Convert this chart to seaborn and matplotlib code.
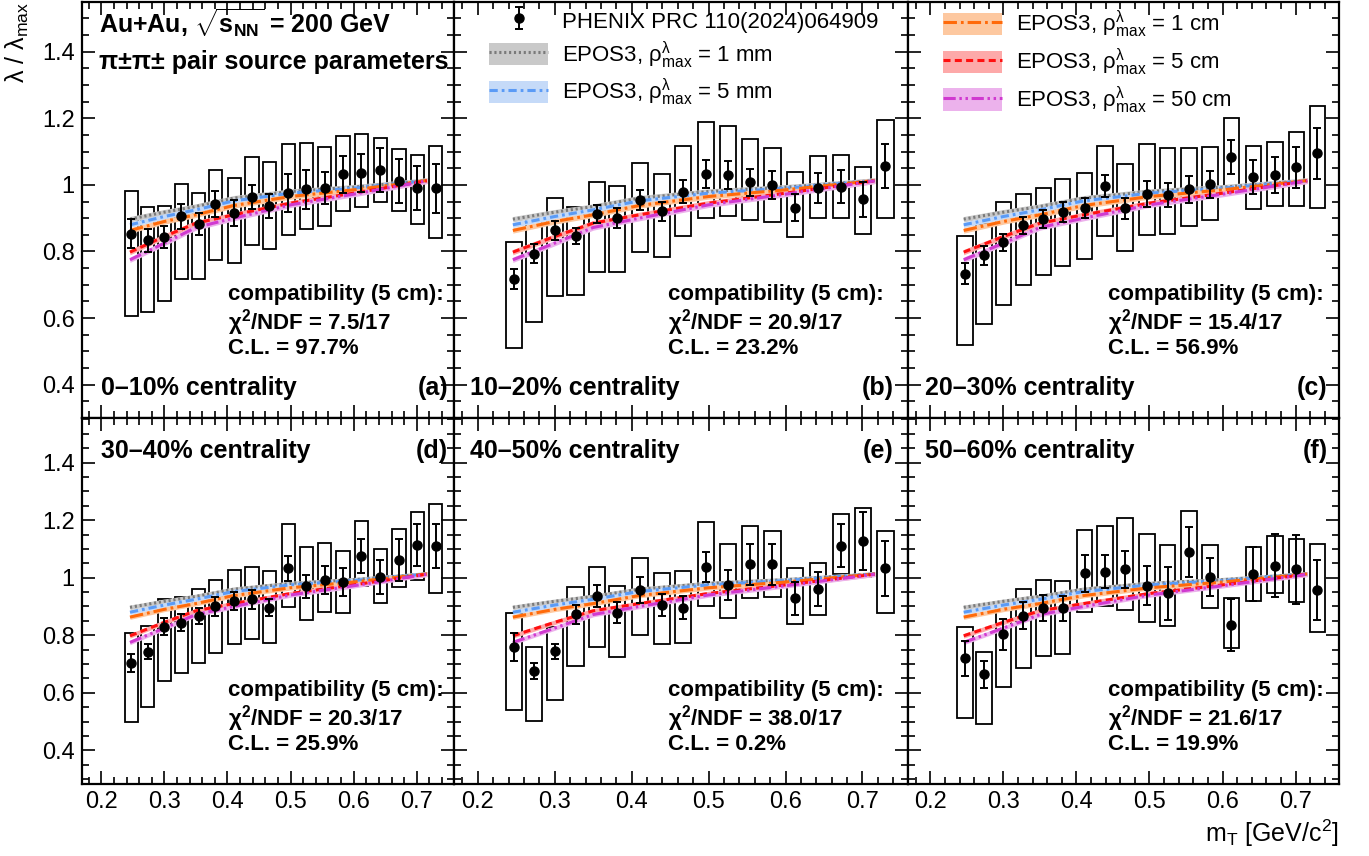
import numpy as np
import matplotlib
matplotlib.use("Agg")
import matplotlib.pyplot as plt
import seaborn as sns
from matplotlib.patches import Patch
from matplotlib.lines import Line2D
from matplotlib.ticker import MultipleLocator, FuncFormatter

# ---------------------------------------------------------------------------
# data
# ---------------------------------------------------------------------------
mt = [0.2475, 0.2735, 0.3000, 0.3270, 0.3545, 0.3810, 0.4110, 0.4390, 0.4665,
      0.4965, 0.5250, 0.5540, 0.5830, 0.6120, 0.6420, 0.6720, 0.7010, 0.7300]

# (a) 0-10%
lam_a = [0.853, 0.833, 0.842, 0.905, 0.882, 0.942, 0.915, 0.965, 0.937,
         0.975, 0.987, 0.990, 1.032, 1.035, 1.045, 1.012, 0.990, 0.990]
stat_a = [0.044, 0.034, 0.033, 0.039, 0.033, 0.039, 0.039, 0.036, 0.037,
          0.058, 0.059, 0.048, 0.055, 0.057, 0.065, 0.067, 0.067, 0.074]
syshi_a = [0.983, 0.933, 0.938, 1.002, 0.977, 1.045, 1.022, 1.083, 1.068,
           1.122, 1.127, 1.115, 1.148, 1.152, 1.142, 1.108, 1.090, 1.118]
syslo_a = [0.605, 0.617, 0.650, 0.718, 0.718, 0.775, 0.765, 0.820, 0.808,
           0.850, 0.868, 0.877, 0.920, 0.933, 0.948, 0.922, 0.882, 0.840]

# (b) 10-20%
lam_b = [0.717, 0.793, 0.863, 0.845, 0.912, 0.900, 0.955, 0.920, 0.980,
         1.033, 1.030, 1.008, 1.000, 0.932, 0.990, 0.995, 0.957, 1.058]
stat_b = [0.030, 0.028, 0.029, 0.024, 0.028, 0.030, 0.031, 0.029, 0.035,
          0.041, 0.042, 0.041, 0.042, 0.040, 0.045, 0.050, 0.053, 0.066]
syshi_b = [0.828, 0.890, 0.960, 0.935, 1.008, 0.997, 1.065, 1.033, 1.118,
           1.188, 1.178, 1.137, 1.110, 1.038, 1.087, 1.090, 1.055, 1.195]
syslo_b = [0.510, 0.588, 0.667, 0.670, 0.738, 0.738, 0.798, 0.783, 0.845,
           0.900, 0.907, 0.895, 0.888, 0.842, 0.900, 0.900, 0.853, 0.900]

# (c) 20-30%
lam_c = [0.733, 0.788, 0.827, 0.878, 0.897, 0.918, 0.930, 0.998, 0.930,
         0.973, 0.970, 0.987, 1.002, 1.083, 1.023, 1.030, 1.053, 1.095]
stat_c = [0.031, 0.028, 0.025, 0.026, 0.028, 0.030, 0.030, 0.033, 0.032,
          0.038, 0.037, 0.041, 0.041, 0.051, 0.051, 0.054, 0.061, 0.077]
syshi_c = [0.847, 0.883, 0.948, 0.973, 0.990, 1.018, 1.037, 1.118, 1.062,
           1.122, 1.110, 1.112, 1.115, 1.202, 1.118, 1.130, 1.160, 1.237]
syslo_c = [0.520, 0.583, 0.638, 0.698, 0.728, 0.757, 0.777, 0.847, 0.802,
           0.850, 0.853, 0.877, 0.895, 0.975, 0.927, 0.938, 0.938, 0.930]

# (d) 30-40%
lam_d = [0.703, 0.743, 0.830, 0.844, 0.867, 0.900, 0.919, 0.925, 0.896,
         1.032, 0.971, 0.992, 0.984, 1.076, 1.003, 1.061, 1.113, 1.111]
stat_d = [0.032, 0.027, 0.030, 0.030, 0.029, 0.032, 0.030, 0.033, 0.030,
          0.042, 0.040, 0.048, 0.048, 0.060, 0.059, 0.073, 0.074, 0.077]
syshi_d = [0.807, 0.833, 0.925, 0.934, 0.960, 0.993, 1.027, 1.038, 1.023,
           1.186, 1.108, 1.119, 1.094, 1.197, 1.098, 1.168, 1.227, 1.256]
syslo_d = [0.498, 0.550, 0.641, 0.670, 0.705, 0.740, 0.769, 0.786, 0.772,
           0.899, 0.853, 0.880, 0.876, 0.971, 0.911, 0.966, 0.992, 0.946]

# (e) 40-50%
lam_e = [0.760, 0.676, 0.745, 0.873, 0.936, 0.878, 0.957, 0.905, 0.896,
         1.036, 0.975, 1.046, 1.047, 0.928, 0.961, 1.111, 1.127, 1.032]
stat_e = [0.048, 0.029, 0.026, 0.033, 0.039, 0.036, 0.046, 0.037, 0.039,
          0.052, 0.051, 0.071, 0.071, 0.058, 0.060, 0.075, 0.100, 0.097]
syshi_e = [0.876, 0.758, 0.830, 0.966, 1.036, 0.972, 1.067, 1.015, 1.024,
           1.192, 1.116, 1.181, 1.163, 1.032, 1.052, 1.220, 1.241, 1.163]
syslo_e = [0.540, 0.502, 0.575, 0.693, 0.760, 0.723, 0.801, 0.770, 0.772,
           0.903, 0.859, 0.931, 0.934, 0.838, 0.870, 1.012, 1.003, 0.876]

# (f) 50-60%
lam_f = [0.720, 0.664, 0.803, 0.867, 0.896, 0.894, 1.015, 1.021, 1.029,
         0.972, 0.946, 1.090, 1.003, 0.836, 1.012, 1.042, 1.029, 0.957]
stat_f = [0.060, 0.047, 0.055, 0.047, 0.045, 0.044, 0.064, 0.058, 0.064,
          0.067, 0.092, 0.087, 0.067, 0.090, 0.093, 0.109, 0.120, 0.103]
syshi_f = [0.830, 0.743, 0.894, 0.961, 0.992, 0.990, 1.166, 1.178, 1.208,
           1.153, 1.112, 1.231, 1.113, 0.928, 1.108, 1.145, 1.133, 1.116]
syslo_f = [0.514, 0.492, 0.619, 0.686, 0.728, 0.735, 0.880, 0.900, 0.888,
           0.847, 0.832, 0.966, 0.894, 0.755, 0.919, 0.948, 0.917, 0.812]

centralities = ["0\u201310% centrality", "10\u201320% centrality", "20\u201330% centrality",
                "30\u201340% centrality", "40\u201350% centrality", "50\u201360% centrality"]
panel_tags = ["(a)", "(b)", "(c)", "(d)", "(e)", "(f)"]
chi2_ndf = ["7.5/17", "20.9/17", "15.4/17", "20.3/17", "38.0/17", "21.6/17"]
conf_level = ["97.7%", "23.2%", "56.9%", "25.9%", "0.2%", "19.9%"]

# EPOS3 curves for the different rho^lambda_max cuts
model_mt = [0.2455, 0.300, 0.350, 0.410, 0.500, 0.600, 0.716]
epos_1mm = [0.897, 0.918, 0.935, 0.960, 0.980, 0.993, 1.013]
epos_5mm = [0.880, 0.905, 0.925, 0.952, 0.975, 0.990, 1.013]
epos_1cm = [0.863, 0.890, 0.910, 0.938, 0.965, 0.985, 1.013]
epos_5cm = [0.798, 0.845, 0.885, 0.910, 0.945, 0.975, 1.012]
epos_50cm = [0.775, 0.825, 0.872, 0.900, 0.940, 0.972, 1.012]
epos_halfwidth = 0.008

# ---------------------------------------------------------------------------
# style
# ---------------------------------------------------------------------------
sns.set_theme(style="ticks", rc={
    "axes.edgecolor": "black", "axes.linewidth": 1.6,
    "xtick.color": "black", "ytick.color": "black",
    "text.color": "black", "axes.labelcolor": "black",
})
plt.rcParams["font.family"] = ["Liberation Sans", "DejaVu Sans"]
plt.rcParams["mathtext.fontset"] = "custom"
plt.rcParams["mathtext.rm"] = "Liberation Sans"
plt.rcParams["mathtext.it"] = "Liberation Sans:italic"
plt.rcParams["mathtext.bf"] = "Liberation Sans:bold"
plt.rcParams["mathtext.default"] = "regular"

models = [
    (epos_1mm, "#7a7a7a", "#c9c9c9", (0, (0.7, 0.9)), r"EPOS3, $\rho^{\lambda}_{max}$ = 1 mm"),
    (epos_5mm, "#5b9bf6", "#c5daf8", (0, (2.7, 1.3, 0.9, 1.3)), r"EPOS3, $\rho^{\lambda}_{max}$ = 5 mm"),
    (epos_1cm, "#ff6a0a", "#fdc8a0", (0, (4.4, 1.3, 0.9, 1.3)), r"EPOS3, $\rho^{\lambda}_{max}$ = 1 cm"),
    (epos_5cm, "#ff1010", "#fda9a9", (0, (2.3, 1.4)), r"EPOS3, $\rho^{\lambda}_{max}$ = 5 cm"),
    (epos_50cm, "#d03ad0", "#ecb2ec", (0, (4.0, 1.2, 0.8, 1.2, 0.8, 1.2)), r"EPOS3, $\rho^{\lambda}_{max}$ = 50 cm"),
]

panel_data = [(lam_a, stat_a, syshi_a, syslo_a), (lam_b, stat_b, syshi_b, syslo_b),
              (lam_c, stat_c, syshi_c, syslo_c), (lam_d, stat_d, syshi_d, syslo_d),
              (lam_e, stat_e, syshi_e, syslo_e), (lam_f, stat_f, syshi_f, syslo_f)]

# layout in pixels of the 1369x856 canvas
W, H = 1369, 856
col_left = [81.7, 454.0, 907.8]
col_width = [372.3, 453.8, 430.8]
row_top = [2.0, 418.0]
row_height = [416.0, 366.0]
row_ylim = [(0.300, 1.549), (0.283, 1.555)]
xlim = (0.169, 0.759)

cent_dx = [19, 16, 17]
tag_dx = [6, 14, 11]
cent_base = [23, 326]          # baseline, px above panel bottom
compat_dx = [146.3, 214.0, 200.0]
compat_base = [[118, 89, 64], [88, 59, 34]]

fig = plt.figure(figsize=(W / 100, H / 100), dpi=100)
tick_fmt = FuncFormatter(lambda v, p: ("%.1f" % v).rstrip("0").rstrip("."))

for i in range(6):
    r, c = divmod(i, 3)
    w_px, h_px = col_width[c], row_height[r]
    ax = fig.add_axes([col_left[c] / W, 1 - (row_top[r] + h_px) / H, w_px / W, h_px / H])
    lam, stat, hi, lo = panel_data[i]

    # systematic boxes
    ax.bar(mt, np.subtract(hi, lo), bottom=lo, width=0.021, fill=False,
           edgecolor="black", linewidth=1.3, zorder=2)

    # EPOS3 model bands and lines
    for vals, color, band, ls, label in models:
        vals = np.asarray(vals)
        ax.fill_between(model_mt, vals - epos_halfwidth, vals + epos_halfwidth,
                        color=band, linewidth=0, zorder=3)
        sns.lineplot(x=model_mt, y=vals, ax=ax, color=color, linewidth=2.2,
                     linestyle=ls, zorder=4)

    # data with statistical errors
    eb = ax.errorbar(mt, lam, yerr=stat, fmt="o", color="black", ms=6.5,
                     elinewidth=1.4, capsize=3, capthick=1.4, zorder=5)

    ax.set_xlim(xlim)
    ax.set_ylim(row_ylim[r])
    ax.set_xlabel("")
    ax.set_ylabel("")
    ax.xaxis.set_major_locator(MultipleLocator(0.1))
    ax.xaxis.set_minor_locator(MultipleLocator(0.02))
    ax.yaxis.set_major_locator(MultipleLocator(0.2))
    ax.yaxis.set_minor_locator(MultipleLocator(0.05))
    ax.xaxis.set_major_formatter(tick_fmt)
    ax.yaxis.set_major_formatter(tick_fmt)
    ax.tick_params(which="both", direction="in", top=True, right=True,
                   width=1.2, labelsize=17, pad=5,
                   labelleft=(c == 0), labelbottom=(r == 1))
    ax.tick_params(which="major", length=9.5)
    ax.tick_params(which="minor", length=5)
    for sp in ax.spines.values():
        sp.set_linewidth(1.6)

    # labels inside the panel
    ax.text(cent_dx[c] / w_px, cent_base[r] / h_px, centralities[i],
            transform=ax.transAxes, fontsize=18, fontweight="bold",
            ha="left", va="baseline")
    ax.text(1 - tag_dx[c] / w_px, cent_base[r] / h_px, panel_tags[i],
            transform=ax.transAxes, fontsize=18, fontweight="bold",
            ha="right", va="baseline")
    compat_lines = ["compatibility (5 cm):",
                    r"$\chi^{2}$/NDF = " + chi2_ndf[i],
                    "C.L. = " + conf_level[i]]
    for line, yb in zip(compat_lines, compat_base[r]):
        ax.text(compat_dx[c] / w_px, yb / h_px, line, transform=ax.transAxes,
                fontsize=16, fontweight="bold", ha="left", va="baseline")

    if i == 0:
        ax.text(17.6 / w_px, (h_px - 31.7) / h_px,
                r"Au+Au, $\sqrt{s_{NN}}$ = 200 GeV", transform=ax.transAxes,
                fontsize=18, fontweight="bold", ha="left", va="baseline")
        ax.text(17.6 / w_px, (h_px - 67) / h_px,
                "\u03c0\u00b1\u03c0\u00b1 pair source parameters",
                transform=ax.transAxes, fontsize=18, fontweight="bold",
                ha="left", va="baseline")

    model_handles = [(Patch(facecolor=band, edgecolor="none"),
                      Line2D([], [], color=color, linewidth=2.2, linestyle=ls))
                     for vals, color, band, ls, label in models]
    model_labels = [m[4] for m in models]
    legend_kw = dict(loc="upper left", frameon=False, fontsize=16, borderpad=0,
                     borderaxespad=0, handlelength=2.66, handleheight=1.17,
                     handletextpad=0.63, labelspacing=0.3)
    if i == 1:
        ax.legend([eb] + model_handles[:2],
                  ["PHENIX PRC 110(2024)064909"] + model_labels[:2],
                  bbox_to_anchor=(35.0 / w_px, (h_px - 7) / h_px), **legend_kw)
    if i == 2:
        ax.legend(model_handles[2:], model_labels[2:],
                  bbox_to_anchor=(35.2 / w_px, (h_px - 7) / h_px), **legend_kw)

fig.text(17 / W, 1 - 2 / H, r"$\lambda$ / $\lambda_{max}$", rotation=90,
         fontsize=18, ha="center", va="top")
fig.text(1338.6 / W, 1 - 842 / H, r"m$_{T}$ [GeV/c$^{2}$]", fontsize=18,
         ha="right", va="baseline")

fig.savefig("out.png", dpi=100)
